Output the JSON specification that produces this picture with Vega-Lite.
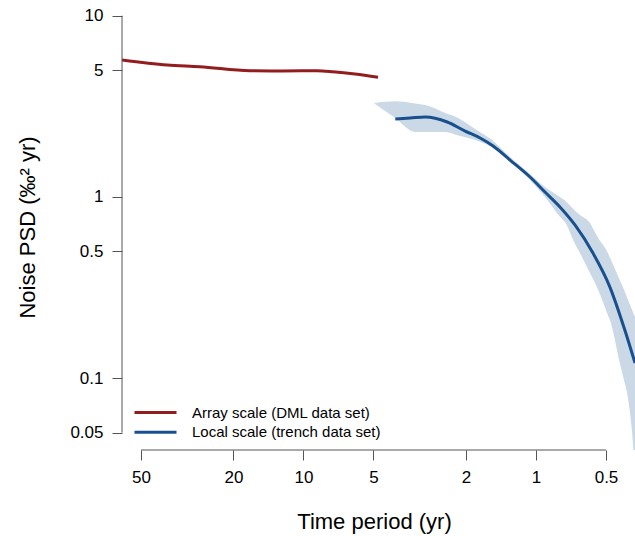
{
  "$schema": "https://vega.github.io/schema/vega-lite/v6.json",
  "width": 513,
  "height": 445,
  "autosize": {"type": "none"},
  "padding": {"left": 122, "top": 5, "right": 0, "bottom": 86},
  "config": {
    "view": {"stroke": null},
    "font": "Liberation Sans",
    "axis": {"grid": false}
  },
  "datasets": {
    "band": [
      {"period": 4.958, "lo": 3.28, "hi": 3.30},
      {"period": 4.030, "lo": 2.726, "hi": 3.375},
      {"period": 3.306, "lo": 2.281, "hi": 3.278},
      {"period": 2.995, "lo": 2.281, "hi": 3.215},
      {"period": 2.458, "lo": 2.281, "hi": 2.908},
      {"period": 2.161, "lo": 2.182, "hi": 2.726},
      {"period": 1.827, "lo": 2.061, "hi": 2.370},
      {"period": 1.545, "lo": 1.874, "hi": 2.061},
      {"period": 1.293, "lo": 1.558, "hi": 1.661},
      {"period": 1.061, "lo": 1.240, "hi": 1.338},
      {"period": 0.915, "lo": 0.999, "hi": 1.134},
      {"period": 0.789, "lo": 0.778, "hi": 0.999},
      {"period": 0.751, "lo": 0.727, "hi": 0.955},
      {"period": 0.680, "lo": 0.552, "hi": 0.840},
      {"period": 0.647, "lo": 0.490, "hi": 0.795},
      {"period": 0.586, "lo": 0.380, "hi": 0.718},
      {"period": 0.547, "lo": 0.318, "hi": 0.608},
      {"period": 0.491, "lo": 0.2233, "hi": 0.490},
      {"period": 0.481, "lo": 0.2092, "hi": 0.463},
      {"period": 0.436, "lo": 0.1212, "hi": 0.347},
      {"period": 0.423, "lo": 0.1029, "hi": 0.318},
      {"period": 0.403, "lo": 0.0787, "hi": 0.2716},
      {"period": 0.387, "lo": 0.0517, "hi": 0.2391},
      {"period": 0.3752, "lo": 0.0292, "hi": 0.2174}
    ],
    "lines": [
      {"series": "Array scale (DML data set)", "period": 60.33, "psd": 5.70},
      {"series": "Array scale (DML data set)", "period": 38.6, "psd": 5.345},
      {"series": "Array scale (DML data set)", "period": 27.9, "psd": 5.231},
      {"series": "Array scale (DML data set)", "period": 16.99, "psd": 4.972},
      {"series": "Array scale (DML data set)", "period": 12.25, "psd": 4.953},
      {"series": "Array scale (DML data set)", "period": 8.75, "psd": 4.972},
      {"series": "Array scale (DML data set)", "period": 7.47, "psd": 4.909},
      {"series": "Array scale (DML data set)", "period": 6.00, "psd": 4.768},
      {"series": "Array scale (DML data set)", "period": 4.78, "psd": 4.571},
      {"series": "Local scale (trench data set)", "period": 4.03, "psd": 2.692},
      {"series": "Local scale (trench data set)", "period": 3.474, "psd": 2.726},
      {"series": "Local scale (trench data set)", "period": 2.995, "psd": 2.761},
      {"series": "Local scale (trench data set)", "period": 2.410, "psd": 2.591},
      {"series": "Local scale (trench data set)", "period": 2.017, "psd": 2.310},
      {"series": "Local scale (trench data set)", "period": 1.739, "psd": 2.114},
      {"series": "Local scale (trench data set)", "period": 1.529, "psd": 1.909},
      {"series": "Local scale (trench data set)", "period": 1.293, "psd": 1.598},
      {"series": "Local scale (trench data set)", "period": 1.061, "psd": 1.288},
      {"series": "Local scale (trench data set)", "period": 0.915, "psd": 1.064},
      {"series": "Local scale (trench data set)", "period": 0.789, "psd": 0.880},
      {"series": "Local scale (trench data set)", "period": 0.680, "psd": 0.700},
      {"series": "Local scale (trench data set)", "period": 0.569, "psd": 0.490},
      {"series": "Local scale (trench data set)", "period": 0.481, "psd": 0.318},
      {"series": "Local scale (trench data set)", "period": 0.415, "psd": 0.1842},
      {"series": "Local scale (trench data set)", "period": 0.3752, "psd": 0.1212}
    ]
  },
  "layer": [
    {
      "data": {"name": "band"},
      "mark": {"type": "area", "color": "#cbd9e7", "opacity": 1, "clip": true, "interpolate": "monotone"},
      "encoding": {
        "x": {
          "field": "period", "type": "quantitative",
          "scale": {"type": "log", "domain": [0.3752, 60.33], "reverse": true, "nice": false},
          "axis": {
            "values": [50, 20, 10, 5, 2, 1, 0.5],
            "domain": false,
            "ticks": true,
            "tickSize": 10,
            "tickColor": "#555555",
            "labelFontSize": 17,
            "labelColor": "#000000",
            "labelPadding": 9,
            "labelFlush": false,
            "labelOverlap": false,
            "title": "Time period (yr)",
            "titleFontSize": 22,
            "titleFontWeight": "normal",
            "titleColor": "#000000",
            "titleX": 252,
            "titleY": 78,
            "titleBaseline": "alphabetic",
            "titleAnchor": "middle",
            "titleAlign": "center"
          }
        },
        "y": {
          "field": "lo", "type": "quantitative",
          "scale": {"type": "log", "domain": [0.04011, 11.46], "nice": false},
          "axis": {
            "values": [0.05, 0.1, 0.5, 1, 5, 10],
            "domain": false,
            "ticks": true,
            "tickSize": 10,
            "tickColor": "#555555",
            "labelFontSize": 17,
            "labelColor": "#000000",
            "labelPadding": 9,
            "labelFlush": false,
            "labelOverlap": false,
            "title": "Noise PSD (‰² yr)",
            "titleFontSize": 22,
            "titleFontWeight": "normal",
            "titleColor": "#000000",
            "titleX": -83,
            "titleY": 222,
            "titleAnchor": "middle",
            "titleAlign": "center",
            "titleAngle": -90,
            "titleBaseline": "bottom"
          }
        },
        "y2": {"field": "hi"}
      }
    },
    {
      "data": {"name": "lines"},
      "mark": {"type": "line", "strokeWidth": 3, "interpolate": "monotone", "clip": true},
      "encoding": {
        "x": {"field": "period", "type": "quantitative"},
        "y": {"field": "psd", "type": "quantitative"},
        "color": {
          "field": "series", "type": "nominal",
          "scale": {"domain": ["Array scale (DML data set)", "Local scale (trench data set)"], "range": ["#931c1f", "#18508e"]},
          "legend": {
            "title": null,
            "orient": "none",
            "legendX": 11,
            "legendY": 400,
            "symbolType": "stroke",
            "symbolSize": 1764,
            "symbolStrokeWidth": 3,
            "clipHeight": 15,
            "labelFontSize": 15,
            "labelColor": "#000000",
            "labelLimit": 0,
            "labelOffset": 14,
            "rowPadding": 3.7,
            "padding": 0
          }
        }
      }
    },
    {
      "data": {"values": [{}]},
      "mark": {"type": "rule", "color": "#555555", "strokeWidth": 1},
      "encoding": {
        "x": {"datum": 60.33, "type": "quantitative"},
        "y": {"datum": 0.05, "type": "quantitative"},
        "y2": {"datum": 10}
      }
    },
    {
      "data": {"values": [{}]},
      "mark": {"type": "rule", "color": "#555555", "strokeWidth": 1},
      "encoding": {
        "x": {"datum": 50, "type": "quantitative"},
        "x2": {"datum": 0.5},
        "y": {"datum": 0.04011, "type": "quantitative"}
      }
    }
  ]
}
